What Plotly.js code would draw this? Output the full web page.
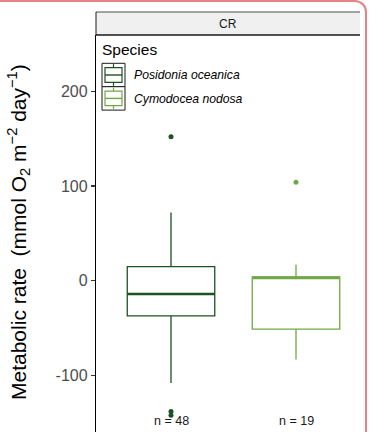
<!DOCTYPE html>
<html>
<head>
<meta charset="utf-8">
<script src="https://cdn.plot.ly/plotly-3.0.1.min.js"></script>
<style>
  html, body { margin: 0; padding: 0; background: #ffffff; }
  #wrap { position: relative; width: 369px; height: 432px; overflow: hidden; }
  #chart { position: absolute; left: 0; top: 0; width: 369px; height: 432px; }
  #frame {
    position: absolute; left: -4px; top: 0; width: 371px; height: 440px;
    box-sizing: border-box;
    border-top: 2px solid #e58386; border-right: 2px solid #e58386;
    border-top-right-radius: 12px; pointer-events: none;
  }
</style>
</head>
<body>
<div id="wrap">
  <div id="chart"></div>
  <div id="frame"></div>
</div>
<script>
// Metabolic rate summaries per species (site CR)
const species   = ["Posidonia oceanica", "Cymodocea nodosa"];
const positions = [0, 1];
const colors    = ["#1f5221", "#6fa845"];
const q1        = [-37, -51];
const median    = [-14, 3];
const q3        = [15, 4];
const lowerFence = [-108, -83];
const upperFence = [72, 17];
const outliers  = [[152, -138, -142], [104]];
const counts    = [48, 19];
const panelLabel = "CR";
const yTicks    = [-100, 0, 100, 200];
const yTickText = ["-100", "0", "100", "200"];

// Layout geometry (pixels)
const W = 369, H = 432;
const M = { l: 96, r: 9, t: 35, b: 0 };
const PW = W - M.l - M.r, PH = H - M.t - M.b;
const px = X => (X - M.l) / PW;        // pixel x -> paper
const py = Y => (H - M.b - Y) / PH;    // pixel y -> paper
const boxWidth = 0.7;
const FONT = "Liberation Sans, Arial, sans-serif";

const traces = [];
species.forEach((s, i) => {
  traces.push({
    type: "box",
    name: s,
    x: [positions[i]],
    q1: [q1[i]], median: [median[i]], q3: [q3[i]],
    lowerfence: [lowerFence[i]], upperfence: [upperFence[i]],
    width: boxWidth,
    whiskerwidth: 0,
    line: { color: colors[i], width: 1.3 },
    fillcolor: "rgba(255,255,255,0)",
    boxpoints: false,
    hoverinfo: "skip",
    showlegend: false
  });
  // thicker median bar
  traces.push({
    type: "scatter", mode: "lines",
    x: [positions[i] - boxWidth / 2, positions[i] + boxWidth / 2],
    y: [median[i], median[i]],
    line: { color: colors[i], width: 2.6 },
    hoverinfo: "skip", showlegend: false
  });
  traces.push({
    type: "scatter", mode: "markers",
    x: outliers[i].map(() => positions[i]),
    y: outliers[i],
    marker: { color: colors[i], size: 5 },
    hoverinfo: "skip", showlegend: false
  });
});

const shapes = [];
const annotations = [];

// facet strip
shapes.push({ type: "rect", xref: "paper", yref: "paper",
  x0: px(96), x1: px(360), y0: py(35), y1: py(12),
  fillcolor: "#f0f0f0", line: { width: 0 }, layer: "above" });
shapes.push({ type: "line", xref: "paper", yref: "paper",
  x0: px(96), x1: px(360), y0: py(12), y1: py(12),
  line: { color: "#4d4d4d", width: 1 } });
shapes.push({ type: "line", xref: "paper", yref: "paper",
  x0: px(96), x1: px(360), y0: py(35), y1: py(35),
  line: { color: "#1a1a1a", width: 1.6 } });
shapes.push({ type: "line", xref: "paper", yref: "paper",
  x0: px(96), x1: px(96), y0: py(35), y1: py(12),
  line: { color: "#1a1a1a", width: 1 } });
annotations.push({ xref: "paper", yref: "paper", x: px(228), y: py(23.5),
  text: panelLabel, showarrow: false, xanchor: "center", yanchor: "middle",
  font: { family: FONT, size: 12, color: "#1a1a1a" } });

// legend drawn inside the panel
annotations.push({ xref: "paper", yref: "paper", x: px(100), y: py(49),
  text: "Species", showarrow: false, xanchor: "left", yanchor: "middle",
  font: { family: FONT, size: 15.5, color: "#000000" } });
const keyX0 = 102, keyX1 = 125, keyTop = 63.3, keyH = 23.4, inset = 4.4;
species.forEach((s, i) => {
  const t = keyTop + i * keyH, b = t + keyH, cx = (keyX0 + keyX1) / 2;
  shapes.push({ type: "rect", xref: "paper", yref: "paper",
    x0: px(keyX0), x1: px(keyX1), y0: py(b), y1: py(t),
    fillcolor: "#ffffff", line: { color: "#1a1a1a", width: 1 } });
  shapes.push({ type: "rect", xref: "paper", yref: "paper",
    x0: px(keyX0 + 3), x1: px(keyX1 - 3), y0: py(b - inset), y1: py(t + inset),
    fillcolor: "#ffffff", line: { color: colors[i], width: 1.2 } });
  shapes.push({ type: "line", xref: "paper", yref: "paper",
    x0: px(keyX0 + 3), x1: px(keyX1 - 3), y0: py(t + keyH / 2), y1: py(t + keyH / 2),
    line: { color: colors[i], width: 1.4 } });
  shapes.push({ type: "line", xref: "paper", yref: "paper",
    x0: px(cx), x1: px(cx), y0: py(t + inset), y1: py(t + 0.8),
    line: { color: colors[i], width: 1.2 } });
  shapes.push({ type: "line", xref: "paper", yref: "paper",
    x0: px(cx), x1: px(cx), y0: py(b - 0.8), y1: py(b - inset),
    line: { color: colors[i], width: 1.2 } });
  annotations.push({ xref: "paper", yref: "paper", x: px(131.5), y: py(t + keyH / 2 + 0.3),
    text: "<i>" + s + "</i>", showarrow: false, xanchor: "left", yanchor: "middle",
    font: { family: FONT, size: 12.2, color: "#000000" } });
});

// sample sizes under each box
species.forEach((s, i) => {
  annotations.push({ x: positions[i], y: -148, xref: "x", yref: "y",
    text: "n = " + counts[i], showarrow: false, xanchor: "center", yanchor: "middle",
    font: { family: FONT, size: 12.5, color: "#1a1a1a" } });
});

// y-axis title
annotations.push({ xref: "paper", yref: "paper", x: px(18), y: py(232),
  text: "Metabolic rate  (mmol O<sub>2</sub> m<sup>\u22122</sup> day<sup>\u22121</sup>)",
  textangle: -90, showarrow: false, xanchor: "center", yanchor: "middle",
  font: { family: FONT, size: 21, color: "#000000" } });

const layout = {
  width: W, height: H,
  margin: M,
  paper_bgcolor: "rgba(0,0,0,0)", plot_bgcolor: "#ffffff",
  showlegend: false,
  boxmode: "overlay",
  xaxis: { range: [-0.6, 1.512], visible: false, showgrid: false, zeroline: false },
  yaxis: {
    range: [-159.6, 259.3], tickvals: yTicks, ticktext: yTickText,
    showgrid: false, zeroline: false,
    showline: true, linecolor: "#000000", linewidth: 1.2,
    ticks: "outside", ticklen: 4, tickwidth: 1.1, tickcolor: "#333333",
    tickfont: { family: FONT, size: 16, color: "#4d4d4d" }
  },
  shapes: shapes,
  annotations: annotations
};

Plotly.newPlot("chart", traces, layout, { staticPlot: true, displayModeBar: false });
</script>
</body>
</html>
